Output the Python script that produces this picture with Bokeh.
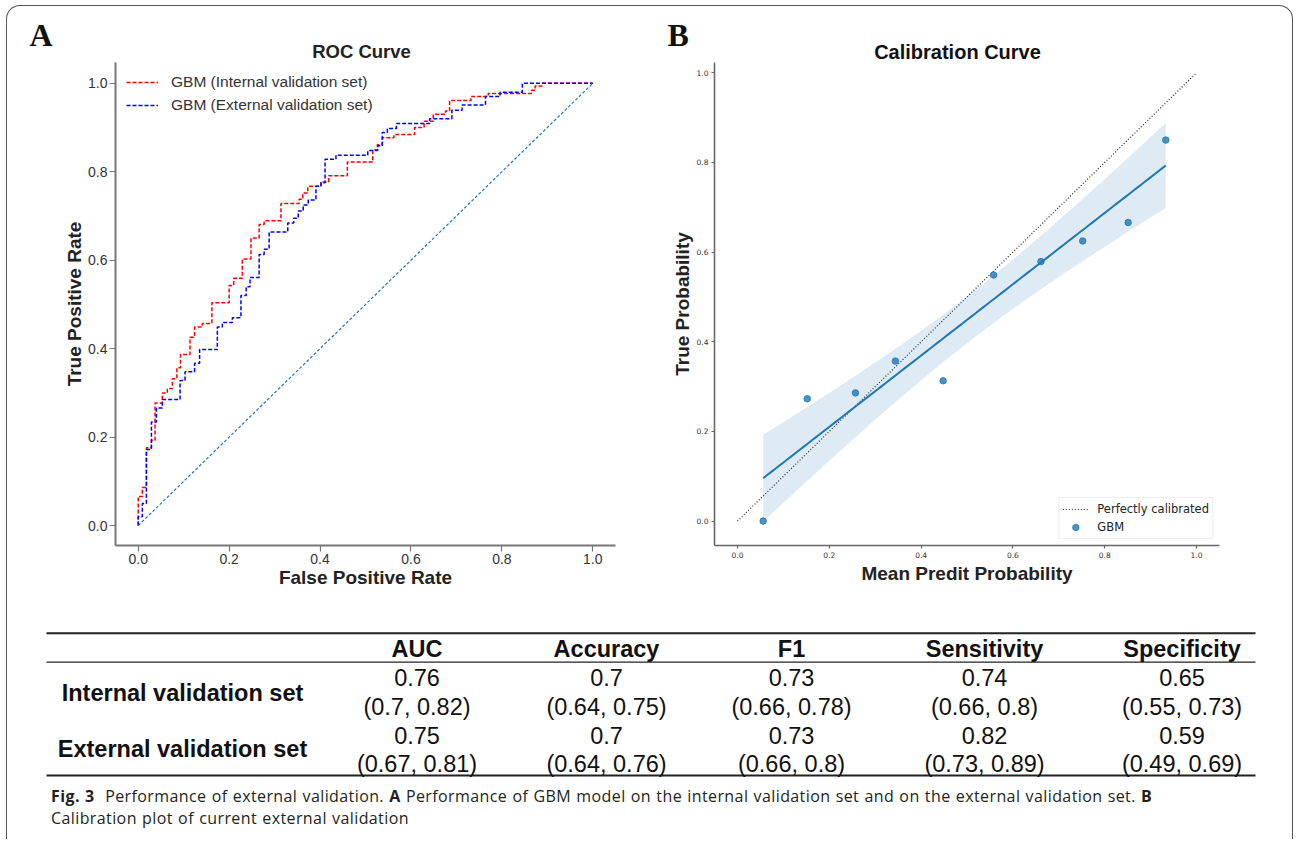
import numpy as np
from bokeh.plotting import figure
from bokeh.layouts import column, row
from bokeh.models import Range1d, FixedTicker, PrintfTickFormatter, Div
from bokeh.core.properties import value
from bokeh.embed import file_html
from bokeh.resources import INLINE

# ---------------- data ----------------
# ROC (step points: at fpr[i] the curve jumps up to tpr[i])
int_fpr = [0, 0, 0.009, 0.018, 0.029, 0.037, 0.053, 0.064, 0.075, 0.085, 0.093, 0.114, 0.124, 0.141,
           0.162, 0.2, 0.21, 0.229, 0.248, 0.266, 0.277, 0.314, 0.354, 0.362, 0.373, 0.402, 0.419, 0.46,
           0.516, 0.526, 0.537, 0.5625, 0.608, 0.629, 0.649, 0.676, 0.685, 0.732, 0.77, 0.865, 0.873,
           0.888, 1.0]
int_tpr = [0, 0.066, 0.086, 0.176, 0.193, 0.277, 0.30, 0.31, 0.332, 0.357, 0.387, 0.426, 0.449, 0.457,
           0.504, 0.543, 0.559, 0.603, 0.65, 0.681, 0.689, 0.728, 0.738, 0.752, 0.767, 0.777, 0.791,
           0.822, 0.85, 0.861, 0.877, 0.884, 0.9, 0.914, 0.93, 0.9375, 0.961, 0.97, 0.977, 0.984, 0.994,
           1.0, 1.0]
ext_fpr = [0, 0, 0.009, 0.018, 0.029, 0.04, 0.053, 0.092, 0.103, 0.124, 0.135, 0.174, 0.185, 0.207,
           0.226, 0.2375, 0.246, 0.266, 0.277, 0.288, 0.329, 0.342, 0.352, 0.363, 0.374, 0.391, 0.402,
           0.411, 0.435, 0.505, 0.527, 0.537, 0.548, 0.568, 0.641, 0.69, 0.7125, 0.764, 0.796, 0.845, 1.0]
ext_tpr = [0, 0.02, 0.05, 0.172, 0.234, 0.266, 0.285, 0.328, 0.348, 0.367, 0.398, 0.449, 0.459, 0.47,
           0.52, 0.54, 0.561, 0.613, 0.625, 0.664, 0.684, 0.695, 0.711, 0.725, 0.736, 0.767, 0.775,
           0.828, 0.8375, 0.848, 0.859, 0.889, 0.898, 0.909, 0.92, 0.939, 0.951, 0.97, 0.98, 1.0, 1.0]
chance_x = [0, 1]
chance_y = [0, 1]
axis_ticks = [0.0, 0.2, 0.4, 0.6, 0.8, 1.0]

# Calibration
cal_x = [0.056, 0.152, 0.257, 0.344, 0.448, 0.558, 0.661, 0.752, 0.851, 0.933]
cal_y = [0.0, 0.273, 0.286, 0.357, 0.313, 0.549, 0.579, 0.625, 0.666, 0.850]
perfect_x = [0, 1]
perfect_y = [0, 1]

# Table
metrics = ["AUC", "Accuracy", "F1", "Sensitivity", "Specificity"]
row_names = ["Internal validation set", "External validation set"]
internal_est = [0.76, 0.7, 0.73, 0.74, 0.65]
internal_lo = [0.7, 0.64, 0.66, 0.66, 0.55]
internal_hi = [0.82, 0.75, 0.78, 0.8, 0.73]
external_est = [0.75, 0.7, 0.73, 0.82, 0.59]
external_lo = [0.67, 0.64, 0.66, 0.73, 0.49]
external_hi = [0.81, 0.76, 0.8, 0.89, 0.69]

panel_letters = ["A", "B"]
panel_titles = ["ROC Curve", "Calibration Curve"]
caption_l1 = ("<b>Fig. 3</b>&nbsp;&nbsp;Performance of external validation. <b>A</b> Performance of GBM model "
              "on the internal validation set and on the external validation set. <b>B</b>")
caption_l2 = "Calibration plot of current external validation"

SANS = "Liberation Sans"
HEAD_H = 62


def bare(p):
    p.xgrid.visible = False
    p.ygrid.visible = False


def style_axes(p, tick_font, tick_size, tick_out, label_standoff, axis_standoff, line_col, line_w):
    for ax in (p.xaxis[0], p.yaxis[0]):
        ax.ticker = FixedTicker(ticks=axis_ticks)
        ax.formatter = PrintfTickFormatter(format="%.1f")
        ax.axis_line_color = line_col
        ax.axis_line_width = line_w
        ax.major_tick_line_color = line_col
        ax.major_tick_line_width = 1.2
        ax.major_tick_out = tick_out
        ax.major_tick_in = 0
        ax.minor_tick_line_color = None
        ax.major_label_text_font = tick_font
        ax.major_label_text_font_size = tick_size
        ax.major_label_text_color = "#333333"
        ax.major_label_standoff = label_standoff
        ax.axis_label_text_font = SANS
        ax.axis_label_text_font_size = "19px"
        ax.axis_label_text_font_style = "bold"
        ax.axis_label_text_color = "#222222"
        ax.axis_label_standoff = axis_standoff
    bare(p)


# ---------------- header strip (panel letters and titles) ----------------
ph = figure(width=1298, height=HEAD_H, x_range=Range1d(0, 1298), y_range=Range1d(HEAD_H, 0), min_border=0,
            output_backend="svg", toolbar_location=None, outline_line_color=None, title=None,
            x_axis_location=None, y_axis_location=None)
bare(ph)
ph.text(x=[29, 667], y=[34, 34], text=panel_letters, text_font=value("Liberation Serif"),
        text_font_style=value("bold"), text_font_size=value("32px"), text_align="left",
        text_baseline="middle", text_color="#111111")
ph.text(x=[361], y=[50.5], text=[panel_titles[0]], text_font=value(SANS), text_font_style=value("bold"),
        text_font_size=value("18.5px"), text_align="center", text_baseline="middle", text_color="#222222")
ph.text(x=[957], y=[51], text=[panel_titles[1]], text_font=value(SANS), text_font_style=value("bold"),
        text_font_size=value("20px"), text_align="center", text_baseline="middle", text_color="#111111")

# ---------------- Panel A: ROC ----------------
FRAME_H = 545 - HEAD_H
p1 = figure(frame_width=500, frame_height=FRAME_H, x_range=Range1d(-0.05, 1.05), y_range=Range1d(-0.045, 1.047),
            min_border_left=115, min_border_right=35, min_border_top=0, min_border_bottom=55,
            output_backend="svg", toolbar_location=None, outline_line_color=None, title=None,
            x_axis_label="False Positive Rate", y_axis_label="True Positive Rate")
style_axes(p1, SANS, "14px", 6, 2, 0, "#777777", 2)

p1.step(int_fpr, int_tpr, mode="after", line_color="#ff0000", line_width=1.5, line_dash="4 2",
        legend_label="GBM (Internal validation set)")
p1.step(ext_fpr, ext_tpr, mode="after", line_color="#0000ff", line_width=1.5, line_dash="4 2",
        legend_label="GBM (External validation set)")
p1.line(chance_x, chance_y, line_color="#1f77b4", line_width=1.2, line_dash="3 2")

lg = p1.legend[0]
lg.location = "top_left"
lg.margin = 11
lg.padding = 0
lg.spacing = 5
lg.label_height = 18
lg.glyph_height = 18
lg.glyph_width = 32
lg.label_standoff = 13
lg.label_text_font = SANS
lg.label_text_font_size = "15.5px"
lg.label_text_color = "#333333"
lg.background_fill_alpha = 0
lg.border_line_color = None

# ---------------- Panel B: Calibration ----------------
p2 = figure(frame_width=505, frame_height=FRAME_H, x_range=Range1d(-0.05, 1.05), y_range=Range1d(-0.0544, 1.023),
            min_border_left=64, min_border_right=71, min_border_top=0, min_border_bottom=55,
            output_backend="svg", toolbar_location=None, outline_line_color=None, title=None,
            x_axis_label="Mean Predit Probability", y_axis_label="True Probability")
style_axes(p2, "DejaVu Sans", "7.5px", 3, 3, 2, "#666666", 1.6)
p2.yaxis[0].axis_label_standoff = 1

cx = np.array(cal_x)
cy = np.array(cal_y)
slope, intercept = np.polyfit(cx, cy, 1)
xs = np.linspace(cx.min(), cx.max(), 100)
yh = intercept + slope * xs
n = len(cx)
resid = cy - (intercept + slope * cx)
s = np.sqrt(np.sum(resid ** 2) / (n - 2))
sxx = np.sum((cx - cx.mean()) ** 2)
t_crit = 2.306  # t(0.975, df=8)
half = t_crit * s * np.sqrt(1.0 / n + (xs - cx.mean()) ** 2 / sxx)

p2.line(perfect_x, perfect_y, line_color="#222222", line_width=1.2, line_dash="1 2",
        legend_label="Perfectly calibrated")
p2.varea(x=xs, y1=yh - half, y2=yh + half, fill_color="#1f77b4", fill_alpha=0.15)
p2.line(xs, yh, line_color="#1f77b4", line_width=2)
p2.scatter(cal_x, cal_y, size=6.5, fill_color="#1f77b4", line_color="#1f77b4", fill_alpha=0.8,
           line_alpha=0.8, legend_label="GBM")

lg2 = p2.legend[0]
lg2.location = "bottom_right"
lg2.margin = 6
lg2.padding = 3
lg2.spacing = 2
lg2.label_height = 16
lg2.glyph_height = 16
lg2.glyph_width = 26
lg2.label_standoff = 9
lg2.label_text_font = "DejaVu Sans"
lg2.label_text_font_size = "11.5px"
lg2.label_text_color = "#222222"
lg2.border_line_color = "#dddddd"
lg2.border_line_width = 1
lg2.background_fill_alpha = 0.9

# ---------------- Table ----------------
p3 = figure(width=1298, height=185, x_range=Range1d(0, 1298), y_range=Range1d(785, 600),
            min_border=0, output_backend="svg", toolbar_location=None, outline_line_color=None, title=None,
            x_axis_location=None, y_axis_location=None)
bare(p3)

col_x = [416.5, 606, 791, 984, 1181.5]
rule_y = [632.7, 661.7, 775]
rule_w = [2, 1.2, 2]
p3.segment(x0=[46] * 3, y0=rule_y, x1=[1255] * 3, y1=rule_y, line_color="#222222", line_width=rule_w)

TFS = value("23.5px")
p3.text(x=col_x, y=[648] * 5, text=metrics, text_font=value(SANS), text_font_style=value("bold"),
        text_font_size=TFS, text_align="center", text_baseline="middle", text_color="#111111")
p3.text(x=[182, 182], y=[692, 748], text=row_names, text_font=value(SANS), text_font_style=value("bold"),
        text_font_size=TFS, text_align="center", text_baseline="middle", text_color="#111111")

for est, lo, hi, y_est, y_ci in [(internal_est, internal_lo, internal_hi, 677, 706),
                                 (external_est, external_lo, external_hi, 735, 763)]:
    p3.text(x=col_x, y=[y_est] * 5, text=[str(v) for v in est], text_font=value(SANS),
            text_font_size=TFS, text_align="center", text_baseline="middle", text_color="#111111")
    p3.text(x=col_x, y=[y_ci] * 5, text=[f"({a}, {b})" for a, b in zip(lo, hi)], text_font=value(SANS),
            text_font_size=TFS, text_align="center", text_baseline="middle", text_color="#111111")

# ---------------- Caption (+ page frame) ----------------
frame_html = ('<div style="position:absolute;left:6px;top:-780px;width:1287px;height:834px;'
              'box-sizing:border-box;border:1.5px solid #555555;border-bottom:none;'
              'border-radius:14px 14px 0 0;pointer-events:none;"></div>')
text_html = ('<div style="font-family:\'Open Sans\';font-size:16px;line-height:22px;letter-spacing:0.4px;'
             'word-spacing:0.7px;color:#231f20;padding-left:51px;padding-top:0px;white-space:nowrap;">'
             f'{caption_l1}<br>{caption_l2}</div>')
cap = Div(text=frame_html + text_html, width=1298, height=54, margin=0)

layout = column(ph, row(p1, p2, spacing=0), p3, cap, spacing=0)

open("out.html", "w").write(file_html(layout, INLINE))
